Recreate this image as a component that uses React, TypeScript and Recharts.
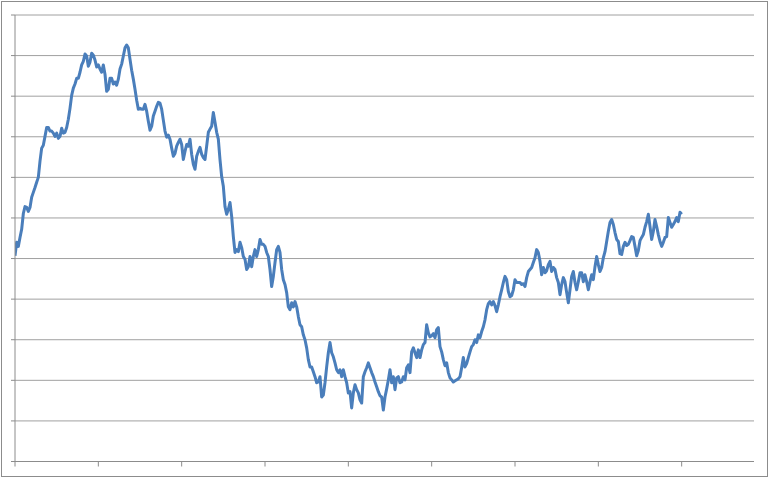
import React from "react";
import { LineChart, Line, XAxis, YAxis, CartesianGrid } from "recharts";

// One reading per step (400 steps, ticks every 50 steps)
const values: number[] = [
  50.7, 54.0, 53.0, 55.2, 57.2, 61.1, 62.8, 62.6, 61.6, 62.6,
  65.1, 66.3, 67.5, 68.8, 70.0, 74.0, 77.2, 77.9, 80.1, 82.3,
  82.3, 81.4, 81.4, 80.9, 80.1, 80.9, 79.6, 80.1, 82.1, 80.9,
  81.1, 82.3, 84.3, 87.0, 90.2, 92.0, 93.0, 94.4, 94.4, 95.9,
  97.7, 98.6, 100.4, 99.9, 97.4, 98.4, 100.6, 100.1, 98.9, 97.2,
  97.7, 96.7, 95.9, 97.7, 95.4, 91.2, 91.7, 94.4, 94.4, 93.0,
  93.5, 92.7, 94.2, 96.7, 97.9, 99.9, 101.9, 102.6, 101.9, 99.1,
  96.4, 94.2, 91.7, 89.0, 86.8, 87.0, 86.8, 86.8, 88.0, 86.3,
  83.8, 81.6, 82.6, 85.1, 86.3, 87.5, 88.5, 88.3, 86.8, 84.1,
  81.4, 79.9, 80.4, 79.4, 77.2, 75.2, 75.9, 77.7, 78.6, 79.4,
  78.1, 74.4, 76.4, 78.1, 77.7, 79.4, 75.7, 73.2, 72.0, 75.2,
  76.4, 77.4, 75.7, 74.9, 74.4, 77.7, 81.1, 81.9, 82.6, 86.0,
  83.6, 81.1, 79.4, 74.4, 70.2, 67.8, 62.8, 60.9, 62.1, 63.8,
  60.4, 55.4, 51.5, 52.2, 51.7, 54.0, 52.7, 50.5, 49.8, 47.3,
  48.0, 50.5, 48.0, 50.5, 52.2, 50.5, 52.2, 54.7, 53.5, 53.5,
  53.0, 51.5, 50.5, 47.3, 43.1, 45.6, 49.0, 52.2, 53.0, 51.5,
  47.3, 44.8, 43.6, 41.6, 38.1, 37.4, 39.1, 38.1, 39.4, 38.1,
  35.7, 33.7, 33.2, 31.2, 30.0, 28.0, 25.1, 23.3, 23.3, 22.1,
  20.9, 19.4, 19.6, 20.9, 15.9, 16.4, 19.4, 23.3, 26.8, 29.3,
  26.8, 25.8, 24.3, 22.6, 21.9, 22.6, 20.9, 22.6, 20.9, 19.4,
  16.9, 17.2, 13.2, 16.9, 18.9, 17.7, 16.9, 15.2, 14.4, 20.9,
  22.1, 23.1, 24.3, 23.1, 21.9, 20.9, 19.6, 18.4, 17.2, 16.2,
  15.9, 12.7, 15.9, 17.9, 20.1, 22.6, 19.4, 20.9, 17.7, 20.6,
  20.9, 19.4, 19.6, 20.9, 20.1, 23.1, 23.8, 21.9, 27.0, 28.0,
  26.8, 25.6, 27.5, 25.6, 27.5, 28.8, 29.3, 33.7, 31.7, 30.7,
  31.0, 31.5, 30.5, 32.5, 33.0, 28.3, 27.0, 25.1, 23.6, 24.3,
  21.9, 20.6, 20.1, 19.6, 19.9, 20.1, 20.4, 20.9, 23.1, 25.6,
  23.3, 24.1, 25.6, 27.0, 28.3, 28.8, 30.0, 29.3, 31.2, 30.5,
  32.0, 33.2, 34.9, 37.4, 38.9, 39.4, 38.6, 39.4, 38.4, 36.9,
  38.6, 40.6, 42.3, 44.1, 45.6, 44.8, 41.9, 40.6, 40.9, 42.3,
  44.8, 44.1, 44.1, 44.1, 43.6, 43.8, 43.1, 45.3, 46.8, 47.3,
  47.8, 49.0, 50.2, 52.2, 51.5, 49.3, 46.0, 47.8, 46.5, 47.0,
  48.5, 49.3, 46.8, 47.8, 47.3, 45.3, 44.1, 41.1, 43.6, 45.3,
  44.3, 41.6, 39.1, 42.3, 45.6, 46.8, 44.1, 42.3, 44.3, 46.5,
  46.5, 44.3, 46.0, 44.3, 42.3, 44.3, 46.0, 44.8, 48.0, 50.5,
  48.5, 46.8, 47.8, 50.2, 51.7, 54.2, 56.7, 58.9, 59.6, 58.4,
  56.4, 54.7, 54.2, 51.2, 51.0, 53.0, 54.0, 53.2, 53.5, 54.4,
  55.4, 55.2, 53.0, 50.7, 52.0, 54.4, 55.2, 55.9, 57.7, 59.1,
  60.9, 57.9, 54.7, 56.7, 59.6, 57.9, 55.9, 54.2, 53.0, 54.0,
  55.2, 55.4, 60.1, 58.9, 57.7, 58.4, 59.1, 60.1, 59.1, 61.4,
  60.9,
];

const xTicks: number[] = [0, 50, 100, 150, 200, 250, 300, 350, 400];
const yTicks: number[] = [0, 10, 20, 30, 40, 50, 60, 70, 80, 90, 100, 110];
const xMax = 443.4;

const data = values.map((v, i) => ({ step: i, value: v }));

const NoLabel = () => <g />;

export default function App() {
  return (
    <div style={{ position: "absolute", left: 0, top: 0, width: 770, height: 478, background: "#fff" }}>
      <div
        style={{
          position: "absolute",
          left: 1,
          top: 1,
          width: 765,
          height: 474,
          border: "1px solid #8c8c8c",
        }}
      />
      <div style={{ position: "absolute", left: 0, top: 0 }}>
        <LineChart
          width={770}
          height={478}
          data={data}
          margin={{ top: 15, right: 16, left: 0, bottom: 0.5 }}
        >
          <CartesianGrid horizontal={true} vertical={false} stroke="#a0a0a0" strokeWidth={1} />
          <XAxis
            dataKey="step"
            type="number"
            domain={[0, xMax]}
            ticks={xTicks}
            interval={0}
            allowDataOverflow
            tick={<NoLabel />}
            tickSize={5}
            height={16}
            axisLine={{ stroke: "#8c8c8c" }}
            tickLine={{ stroke: "#8c8c8c" }}
          />
          <YAxis
            type="number"
            domain={[0, 110]}
            ticks={yTicks}
            interval={0}
            allowDataOverflow
            tick={<NoLabel />}
            tickSize={4}
            width={15}
            axisLine={{ stroke: "#8c8c8c" }}
            tickLine={{ stroke: "#8c8c8c" }}
          />
          <Line
            type="linear"
            dataKey="value"
            stroke="#4a7ebb"
            strokeWidth={3}
            strokeLinejoin="round"
            dot={false}
            activeDot={false}
            isAnimationActive={false}
          />
        </LineChart>
      </div>
    </div>
  );
}
